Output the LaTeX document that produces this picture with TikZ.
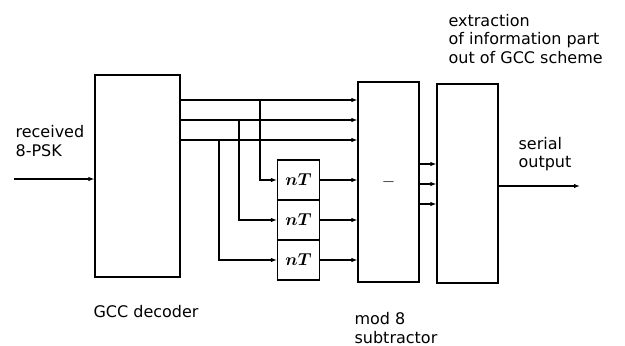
\documentclass[tikz,border=0pt]{standalone}
\usepackage{fontspec}
\setmainfont{DejaVu Sans}
\usetikzlibrary{arrows.meta,calc}
\begin{document}
\begin{tikzpicture}[x=1pt,y=-1pt,
  line width=1.2pt,
  blk/.style={draw,line width=1.2pt,minimum width=#1,inner sep=0pt,font=\fontsize{18}{18}\selectfont},
  dly/.style={draw,line width=1.2pt,minimum width=42pt,minimum height=40pt,inner sep=0pt,font=\fontsize{18}{18}\selectfont\boldmath},
  arr/.style={-{Latex[length=6pt,width=4.5pt]}},
  lbl/.style={font=\fontsize{16}{18.5}\selectfont,align=left,inner sep=0pt}]
\useasboundingbox (0,0) rectangle (625,346);
% main boxes
\node[blk=85pt,minimum height=202pt] (dec) at (137.5,176) {};
\node[blk=61pt,minimum height=200pt] (sub) at (388.5,182) {$-$};
\node[blk=61pt,minimum height=199pt] (ext) at (467.5,183.5) {};
% delay boxes
\node[dly] (d1) at (298.5,180) {$nT$};
\node[dly] (d2) at (298.5,220) {$nT$};
\node[dly] (d3) at (298.5,260) {$nT$};
% input / output
\coordinate (in) at (14,179);
\coordinate (out) at (580,186);
\draw[arr] (in) -- (in -| dec.west);
\draw[arr] (ext.east |- out) -- (out);
% decoder outputs to subtractor
\draw[arr] (dec.east |- 0,100) -- (sub.west |- 0,100);
\draw[arr] (dec.east |- 0,120) -- (sub.west |- 0,120);
\draw[arr] (dec.east |- 0,140) -- (sub.west |- 0,140);
% branches to delays
\coordinate (b1) at (260,100);
\coordinate (b2) at (239,120);
\coordinate (b3) at (219,140);
\draw[arr] (b1) |- (d1.west);
\draw[arr] (b2) |- (d2.west);
\draw[arr] (b3) |- (d3.west);
% delays to subtractor
\draw[arr] (d1.east) -- (d1.east -| sub.west);
\draw[arr] (d2.east) -- (d2.east -| sub.west);
\draw[arr] (d3.east) -- (d3.east -| sub.west);
% subtractor to extraction
\draw[arr] (sub.east |- 0,164) -- (ext.west |- 0,164);
\draw[arr] (sub.east |- 0,184) -- (ext.west |- 0,184);
\draw[arr] (sub.east |- 0,204) -- (ext.west |- 0,204);
% labels
\node[lbl,anchor=west] (lin) at (15,141) {received\\8-PSK};
\node[lbl,anchor=west] (lout) at (518,154) {serial\\output};
\node[lbl,anchor=west] (ldec) at (93,312) {GCC decoder};
\node[lbl,anchor=west] (lsub) at (354,328) {mod 8\\subtractor};
\node[lbl,anchor=west] (lext) at (448,39) {extraction\\of information part\\out of GCC scheme};
\end{tikzpicture}
\end{document}
